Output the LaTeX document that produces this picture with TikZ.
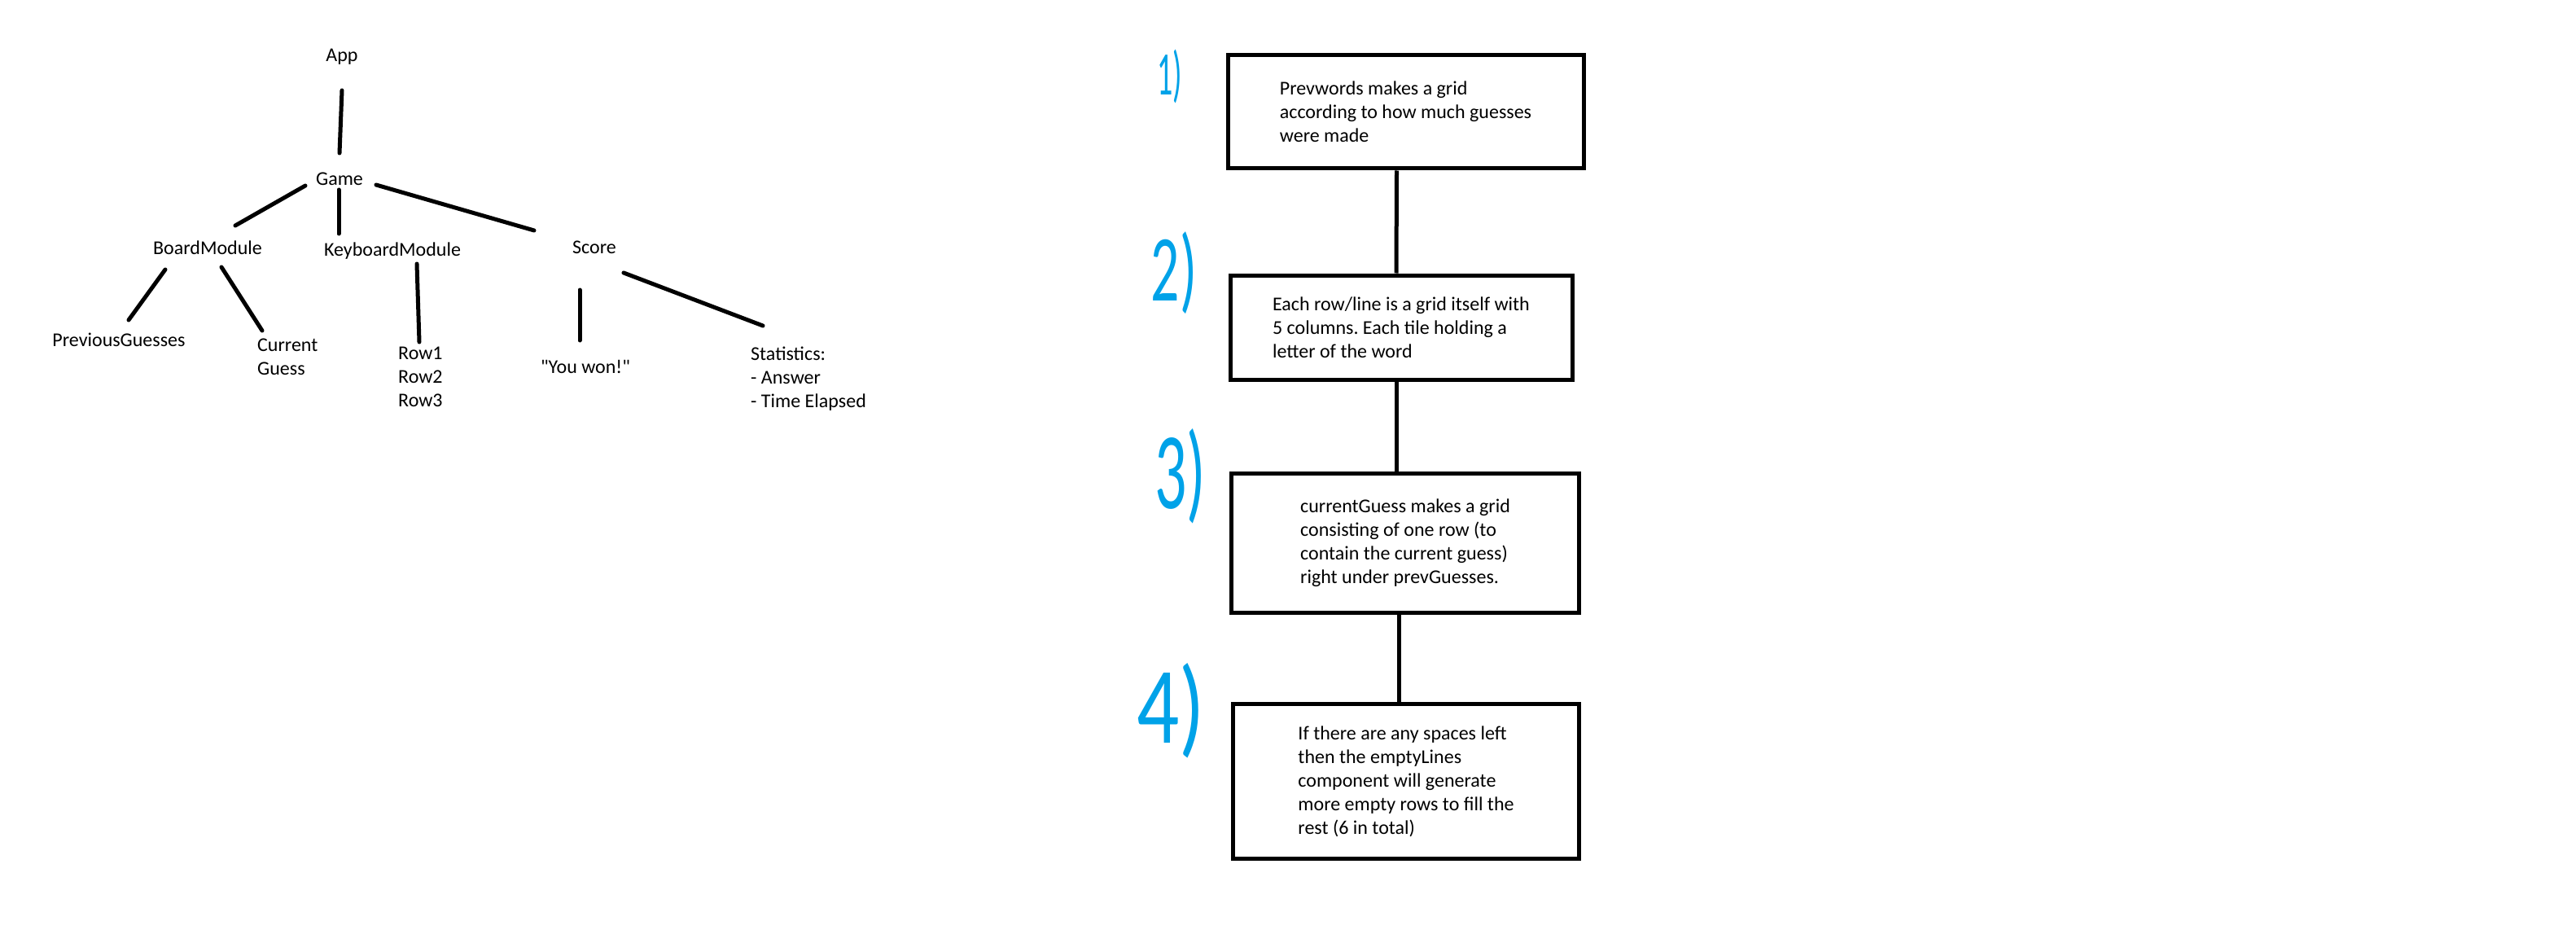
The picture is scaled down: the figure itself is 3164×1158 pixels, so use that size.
\documentclass[tikz,border=0pt]{standalone}
\usepackage{fontspec}
\setmainfont{Carlito}
\frenchspacing
\definecolor{pblue}{RGB}{0,162,232}
\begin{document}
\begin{tikzpicture}[x=1pt,y=-1pt,
  lbl/.style={inner sep=0pt, font=\fontsize{24}{29}\selectfont, align=left},
  stroke/.style={line width=5pt, line cap=round},
  conn/.style={line width=5pt},
  box/.style={draw, line width=5pt, rectangle, inner sep=0pt, align=left, font=\fontsize{24}{29}\selectfont},
  num/.style={text=pblue, inner sep=0pt}]
\fill[white] (0,0) rectangle (3164,1158);
\useasboundingbox (0,0) rectangle (3164,1158);

% tree
\node[lbl] (app) at (420,70) {App};
\node[lbl] (game) at (417,220) {Game};
\node[lbl] (board) at (255,304) {BoardModule};
\node[lbl] (kbd) at (482,308) {KeyboardModule};
\node[lbl] (score) at (730,304) {Score};
\node[lbl] (prev) at (146,417) {PreviousGuesses};
\node[lbl, anchor=west] (cur) at (316,438) {Current\\Guess};
\node[lbl, anchor=west] (rows) at (489,463) {Row1\\Row2\\Row3};
\node[lbl] (won) at (719,450) {\textquotedbl You won!\textquotedbl};
\node[lbl, anchor=west] (stats) at (922,465) {Statistics:\\- Answer\\- Time Elapsed};

\draw[stroke] ([shift={(0,41)}]app.center) -- ([shift={(0,-32)}]game.center);
\draw[stroke] ([shift={(-42,8)}]game.center) -- ([shift={(34,-27)}]board.center);
\draw[stroke] ([shift={(-1,13)}]game.center) -- ([shift={(-66,-21)}]kbd.center);
\draw[stroke] ([shift={(45,7)}]game.center) -- ([shift={(-74,-21)}]score.center);
\draw[stroke] ([shift={(-52,27)}]board.center) -- ([shift={(12,-24)}]prev.center);
\draw[stroke] ([shift={(17,24)}]board.center) -- ([shift={(6,-32)}]cur.west);
\draw[stroke] ([shift={(30,16)}]kbd.center) -- ([shift={(26,-43)}]rows.west);
\draw[stroke] ([shift={(-18,52)}]score.center) -- ([shift={(-7,-32)}]won.center);
\draw[stroke] ([shift={(36,31)}]score.center) -- ([shift={(15,-65)}]stats.west);

% flow boxes
\node[box, minimum width=437pt, minimum height=139pt] (b1) at (1726.5,137.5)
  {Prevwords makes a grid\\according to how much guesses\\were made};
\node[box, minimum width=420pt, minimum height=128pt] (b2) at (1721,402)
  {Each row/line is a grid itself with\\5 columns. Each tile holding a\\letter of the word};
\node[box, minimum width=427pt, minimum height=171pt] (b3) at (1726,666.5)
  {currentGuess makes a grid\\consisting of one row (to\\contain the current guess)\\right under prevGuesses.};
\node[box, minimum width=425pt, minimum height=190pt] (b4) at (1727,959.5)
  {If there are any spaces left\\then the emptyLines\\component will generate\\more empty rows to fill the\\rest (6 in total)};

\draw[conn] ([xshift=-11pt]b1.south) -- ([xshift=-6pt]b2.north);
\draw[conn] ([xshift=-6pt]b2.south) -- ([xshift=-11pt]b3.north);
\draw[conn] ([xshift=-8pt]b3.south) -- ([xshift=-9pt]b4.north);

% step numbers
\node[num, font=\fontsize{76}{76}\selectfont] (n1) at (1437,94) {\scalebox{0.5}[1]{1)}};
\node[num, font=\fontsize{116}{116}\selectfont] (n2) at (1442,335) {\scalebox{0.6}[1]{2)}};
\node[num, font=\fontsize{134}{134}\selectfont] (n3) at (1450,585) {\scalebox{0.58}[1]{3)}};
\node[num, font=\fontsize{134}{134}\selectfont] (n4) at (1438,873) {\scalebox{0.77}[1]{4)}};
\end{tikzpicture}
\end{document}
